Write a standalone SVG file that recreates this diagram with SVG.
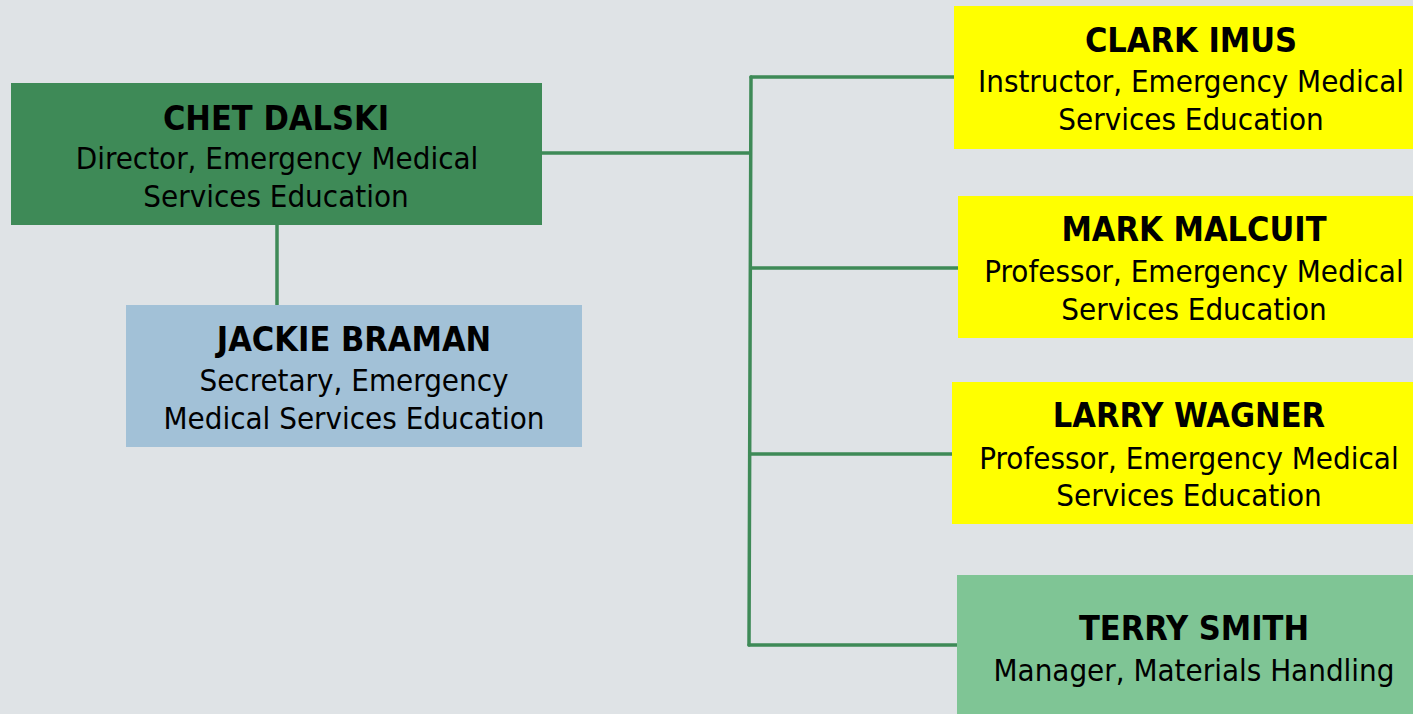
<svg xmlns="http://www.w3.org/2000/svg" width="1413" height="714" viewBox="0 0 1413 714">
<style>
.t{font-family:"DejaVu Sans Condensed","DejaVu Sans",sans-serif;fill:#000;text-anchor:middle}
.n{font-weight:bold;font-size:34px}
.r{font-size:31px}
.ln{stroke:#3e8a57;stroke-width:3.5;fill:none;stroke-linecap:round}
</style>
<rect width="1413" height="714" fill="#dfe3e6"/>
<g id="connectors">
<path class="ln" d="M541 153 H750"/>
<path class="ln" d="M277 225 V305"/>
<path class="ln" d="M751 77 L749 645"/>
<path class="ln" d="M751 77 H954"/>
<path class="ln" d="M751 268 H958"/>
<path class="ln" d="M750 454 H952"/>
<path class="ln" d="M749 645 H957"/>
</g>
<g id="chet">
<rect x="11" y="83" width="531" height="142" fill="#3e8a57"/>
<text class="t n" x="276" y="130">CHET DALSKI</text>
<text class="t r" x="277" y="169">Director, Emergency Medical</text>
<text class="t r" x="276" y="207">Services Education</text>
</g>
<g id="jackie">
<rect x="126" y="305" width="456" height="142" fill="#a2c1d7"/>
<text class="t n" x="354" y="351">JACKIE BRAMAN</text>
<text class="t r" x="354" y="391">Secretary, Emergency</text>
<text class="t r" x="354" y="429">Medical Services Education</text>
</g>
<g id="clark">
<rect x="954" y="6" width="459" height="143" fill="#ffff00"/>
<text class="t n" x="1191" y="52">CLARK IMUS</text>
<text class="t r" x="1191" y="92">Instructor, Emergency Medical</text>
<text class="t r" x="1191" y="130">Services Education</text>
</g>
<g id="mark">
<rect x="958" y="196" width="455" height="142" fill="#ffff00"/>
<text class="t n" x="1194" y="241">MARK MALCUIT</text>
<text class="t r" x="1194" y="282">Professor, Emergency Medical</text>
<text class="t r" x="1194" y="320">Services Education</text>
</g>
<g id="larry">
<rect x="952" y="382" width="461" height="142" fill="#ffff00"/>
<text class="t n" x="1189" y="427">LARRY WAGNER</text>
<text class="t r" x="1189" y="469">Professor, Emergency Medical</text>
<text class="t r" x="1189" y="506">Services Education</text>
</g>
<g id="terry">
<rect x="957" y="575" width="456" height="139" fill="#7fc595"/>
<text class="t n" x="1194" y="640">TERRY SMITH</text>
<text class="t r" x="1194" y="681">Manager, Materials Handling</text>
</g>
</svg>
